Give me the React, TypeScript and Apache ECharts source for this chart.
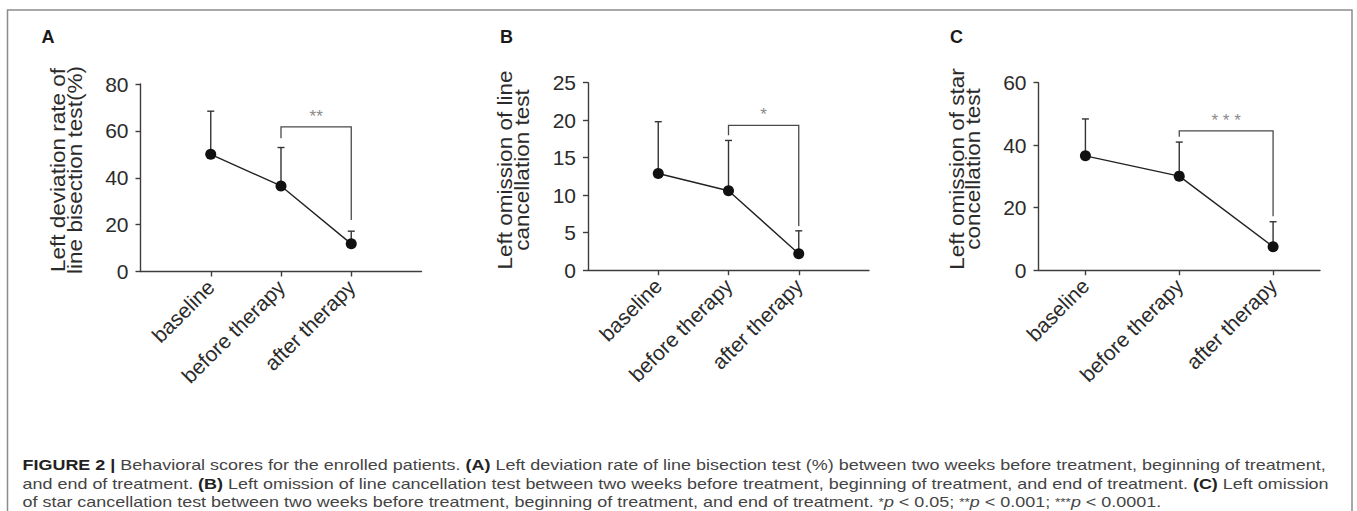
import React, { useEffect, useRef } from 'react';
import * as echarts from 'echarts';

// ---------- data ----------
const categories = ['baseline', 'before therapy', 'after therapy'];

const meansA = [50, 36.5, 11.8];
const sdA = [18.4, 16.4, 5.4];
const yTicksA = [0, 20, 40, 60, 80];
const bracketA = [61.7, 56.9, 22.0]; // top, left end, right end
const starsA = '**';

const meansB = [12.9, 10.6, 2.2];
const sdB = [6.9, 6.7, 3.05];
const yTicksB = [0, 5, 10, 15, 20, 25];
const bracketB = [19.3, 18.0, 5.9];
const starsB = '*';

const meansC = [36.6, 30.1, 7.5];
const sdC = [11.8, 10.9, 8.0];
const yTicksC = [0, 20, 40, 60];
const bracketC = [44.6, 42.7, 17.3];
const starsC = '* * *';

const yNameA = 'Left deviation rate of\nline bisection test(%)';
const yNameB = 'Left omission of line\ncancellation test';
const yNameC = 'Left omission of star\nconcellation test';

const captionLines = [
  '{b|FIGURE 2 |} Behavioral scores for the enrolled patients. {b|(A)} Left deviation rate of line bisection test (%) between two weeks before treatment, beginning of treatment,',
  'and end of treatment. {b|(B)} Left omission of line cancellation test between two weeks before treatment, beginning of treatment, and end of treatment. {b|(C)} Left omission',
  'of star cancellation test between two weeks before treatment, beginning of treatment, and end of treatment. {s|*}{i|p} < 0.05; {s|**}{i|p} < 0.001; {s|***}{i|p} < 0.0001.',
];

// ---------- styles ----------
const FONT = '"Liberation Sans", Arial, Helvetica, sans-serif';
const AXIS_COLOR = '#3d3d3d';
const TEXT_COLOR = '#2b2b2b';
const CAP_SIZE = 14.6;
const CAP_STRETCH = 1.23;

const panels = [
  { means: meansA, sd: sdA, ticks: yTicksA, bracket: bracketA, stars: starsA, padded: true,
    grid: { left: 140.5, top: 84, width: 281, height: 187.5 }, name: yNameA, nameX: 67, nameY: 170, letter: 'A', letterX: 41.5 },
  { means: meansB, sd: sdB, ticks: yTicksB, bracket: bracketB, stars: starsB, padded: true,
    grid: { left: 588, top: 82.7, width: 281, height: 187.5 }, name: yNameB, nameX: 514, nameY: 170, letter: 'B', letterX: 500 },
  { means: meansC, sd: sdC, ticks: yTicksC, bracket: bracketC, stars: starsC, padded: false,
    grid: { left: 1038.5, top: 82.7, width: 281.5, height: 187.5 }, name: yNameC, nameX: 965.5, nameY: 169, letter: 'C', letterX: 950 },
];

function buildOption() {
  const grids: any[] = [];
  const xAxes: any[] = [];
  const yAxes: any[] = [];
  const series: any[] = [];
  const graphics: any[] = [];

  panels.forEach((p, gi) => {
    grids.push({ ...p.grid, containLabel: false, outerBoundsMode: 'none' });
    const cats = p.padded ? ['', ...categories, ''] : categories;
    const xi = (k: number) => (p.padded ? k + 1 : k);
    xAxes.push({
      type: 'category',
      gridIndex: gi,
      data: cats,
      boundaryGap: !p.padded,
      axisLine: { lineStyle: { color: AXIS_COLOR, width: 1.4 } },
      axisTick: {
        show: true,
        length: 5,
        alignWithLabel: true,
        interval: p.padded ? (idx: number) => idx >= 1 && idx <= 3 : 0,
        lineStyle: { color: AXIS_COLOR, width: 1.4 },
      },
      axisLabel: {
        interval: 0,
        rotate: 45,
        margin: 12,
        fontSize: 21,
        fontFamily: FONT,
        color: TEXT_COLOR,
      },
      splitLine: { show: false },
    });
    const tks = p.ticks;
    yAxes.push({
      type: 'value',
      gridIndex: gi,
      min: tks[0],
      max: tks[tks.length - 1],
      interval: tks[1] - tks[0],
      axisLine: { show: true, lineStyle: { color: AXIS_COLOR, width: 1.4 } },
      axisTick: { show: true, length: 5, lineStyle: { color: AXIS_COLOR, width: 1.4 } },
      axisLabel: { margin: 12, fontSize: 21, fontFamily: FONT, color: TEXT_COLOR },
      splitLine: { show: false },
    });

    // error bars (upper SD)
    series.push({
      type: 'custom',
      xAxisIndex: gi,
      yAxisIndex: gi,
      clip: false,
      z: 2,
      data: p.means.map((m, k) => [xi(k), m, m + p.sd[k]]),
      encode: { x: 0, y: [1, 2] },
      renderItem: (params: any, api: any) => {
        const a = api.coord([api.value(0), api.value(1)]);
        const b = api.coord([api.value(0), api.value(2)]);
        const st = { stroke: '#333', lineWidth: 1.4 };
        return {
          type: 'group',
          children: [
            { type: 'line', shape: { x1: a[0], y1: a[1], x2: b[0], y2: b[1] }, style: st },
            { type: 'line', shape: { x1: b[0] - 3.5, y1: b[1], x2: b[0] + 3.5, y2: b[1] }, style: st },
          ],
        };
      },
    });

    // mean line with dots
    series.push({
      type: 'line',
      xAxisIndex: gi,
      yAxisIndex: gi,
      z: 3,
      data: p.means.map((m, k) => [xi(k), m]),
      symbol: 'circle',
      symbolSize: 11,
      lineStyle: { color: '#222', width: 1.4 },
      itemStyle: { color: '#111' },
    });

    // significance bracket between "before therapy" and "after therapy"
    series.push({
      type: 'custom',
      xAxisIndex: gi,
      yAxisIndex: gi,
      clip: false,
      z: 1,
      data: [[xi(1), xi(2), p.bracket[0], p.bracket[1], p.bracket[2]]],
      encode: { x: [0, 1], y: [2, 3, 4] },
      renderItem: (params: any, api: any) => {
        const l0 = api.coord([api.value(0), api.value(3)]);
        const lt = api.coord([api.value(0), api.value(2)]);
        const rt = api.coord([api.value(1), api.value(2)]);
        const r0 = api.coord([api.value(1), api.value(4)]);
        return {
          type: 'group',
          children: [
            {
              type: 'polyline',
              shape: { points: [l0, lt, rt, r0] },
              style: { stroke: '#4a4a4a', lineWidth: 1.3, fill: null },
            },
            {
              type: 'text',
              x: (lt[0] + rt[0]) / 2,
              y: lt[1] - 2,
              style: {
                text: p.stars,
                align: 'center',
                verticalAlign: 'bottom',
                fontSize: 17,
                fontFamily: FONT,
                fill: '#8a8a8a',
              },
            },
          ],
        };
      },
    });

    // panel letter
    graphics.push({
      type: 'text',
      x: p.letterX,
      y: 36.5,
      style: {
        text: p.letter,
        align: 'left',
        verticalAlign: 'middle',
        fontSize: 18,
        fontWeight: 'bold',
        fontFamily: FONT,
        fill: '#1a1a1a',
      },
    });

    // y axis name
    graphics.push({
      type: 'text',
      x: p.nameX,
      y: p.nameY,
      rotation: Math.PI / 2,
      scaleX: 1.1,
      style: {
        text: p.name,
        align: 'center',
        verticalAlign: 'middle',
        fontSize: 20.5,
        lineHeight: 16.5,
        fontFamily: FONT,
        fill: TEXT_COLOR,
      },
    });
  });

  // frame
  graphics.push({
    type: 'rect',
    shape: { x: 7.5, y: 10, width: 1344.5, height: 540 },
    style: { fill: null, stroke: '#8c8c8c', lineWidth: 1.5 },
    z: -1,
  });

  // caption
  const capY = [465, 483.5, 502];
  captionLines.forEach((line, i) => {
    graphics.push({
      type: 'text',
      x: 22.5,
      y: capY[i],
      scaleX: CAP_STRETCH,
      style: {
        text: line,
        align: 'left',
        verticalAlign: 'middle',
        fontSize: CAP_SIZE,
        fontFamily: FONT,
        fill: '#444',
        rich: {
          b: { fontWeight: 'bold', fontSize: CAP_SIZE, fontFamily: FONT, fill: '#222' },
          i: { fontStyle: 'italic', fontSize: CAP_SIZE, fontFamily: FONT, fill: '#444' },
          s: { fontSize: 11, fontFamily: FONT, fill: '#444' },
        },
      },
    });
  });

  return {
    animation: false,
    backgroundColor: '#ffffff',
    grid: grids,
    xAxis: xAxes,
    yAxis: yAxes,
    series,
    graphic: graphics,
  };
}

export default function App() {
  const ref = useRef<HTMLDivElement>(null);
  useEffect(() => {
    if (!ref.current) return;
    const chart = echarts.init(ref.current, undefined, { renderer: 'svg' });
    chart.setOption(buildOption() as any);
    return () => chart.dispose();
  }, []);
  return (
    <div
      ref={ref}
      style={{ position: 'fixed', left: 0, top: 0, width: 1357, height: 511, background: '#fff' }}
    />
  );
}
